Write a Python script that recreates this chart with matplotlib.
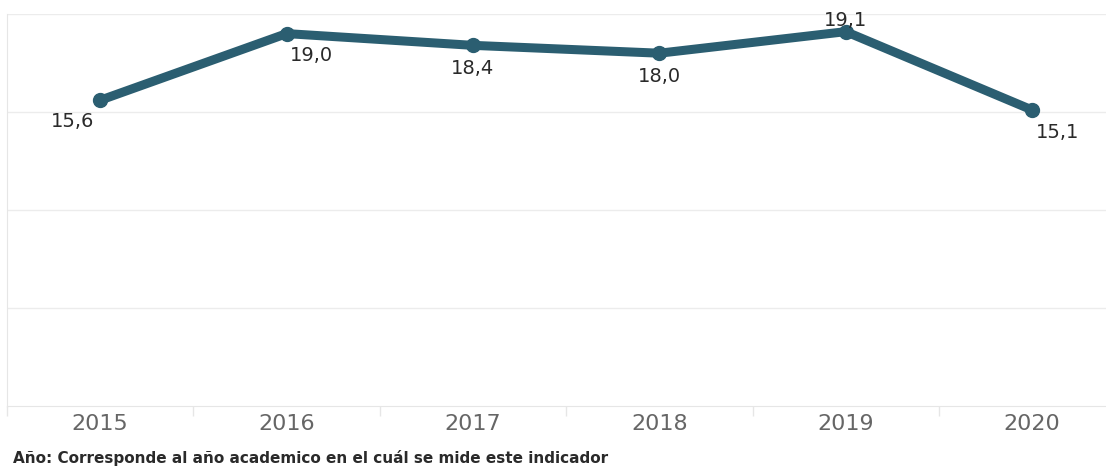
import matplotlib.pyplot as plt
from matplotlib.ticker import FixedLocator

years = ["2015", "2016", "2017", "2018", "2019", "2020"]
values = [15.6, 19.0, 18.4, 18.0, 19.1, 15.1]
labels = ["15,6", "19,0", "18,4", "18,0", "19,1", "15,1"]
# label offsets in points (dx, dy) relative to each point
offsets = [(-20, -15), (18, -16), (0, -17), (0, -17), (0, 8), (18, -16)]
note = "Año: Corresponde al año academico en el cuál se mide este indicador"

plt.rcParams['font.family'] = ['DejaVu Sans']

fig = plt.figure(figsize=(11.06, 4.68), dpi=100)
ax = fig.add_axes([7 / 1106, 1 - 406 / 468, 1 - 7 / 1106, 392 / 468])

x = list(range(len(years)))
ax.plot(x, values, color="#2b5e71", lw=6.5, marker="o", ms=10,
        solid_joinstyle="round", solid_capstyle="round", zorder=3)

for xi, v, lab, (dx, dy) in zip(x, values, labels, offsets):
    ax.annotate(lab, (xi, v), xytext=(dx, dy), textcoords="offset points",
                ha="center", va="center", fontsize=14, color="#2a2a2a")

ax.set_xlim(-0.5, 5.396)
ax.set_ylim(0, 20)
ax.set_yticks([5, 10, 15, 20])
ax.set_yticklabels([])
ax.tick_params(axis="y", length=0)
ax.grid(axis="y", color="#ececec", lw=1)
ax.set_axisbelow(True)

ax.set_xticks(x)
ax.set_xticklabels(years, fontsize=16, color="#666666")
ax.tick_params(axis="x", which="major", length=0, pad=6)
ax.xaxis.set_minor_locator(FixedLocator([i - 0.5 for i in range(len(years) + 1)]))
ax.tick_params(axis="x", which="minor", length=7, color="#e6e6e6", width=1)

for s in ["top", "right"]:
    ax.spines[s].set_visible(False)
ax.spines["left"].set_color("#e6e6e6")
ax.spines["bottom"].set_color("#e6e6e6")

fig.text(13 / 1106, 1 - 458 / 468, note, fontsize=11, fontweight="bold",
         color="#2a2a2a", ha="left", va="center")

fig.savefig("out.png", dpi=100)
